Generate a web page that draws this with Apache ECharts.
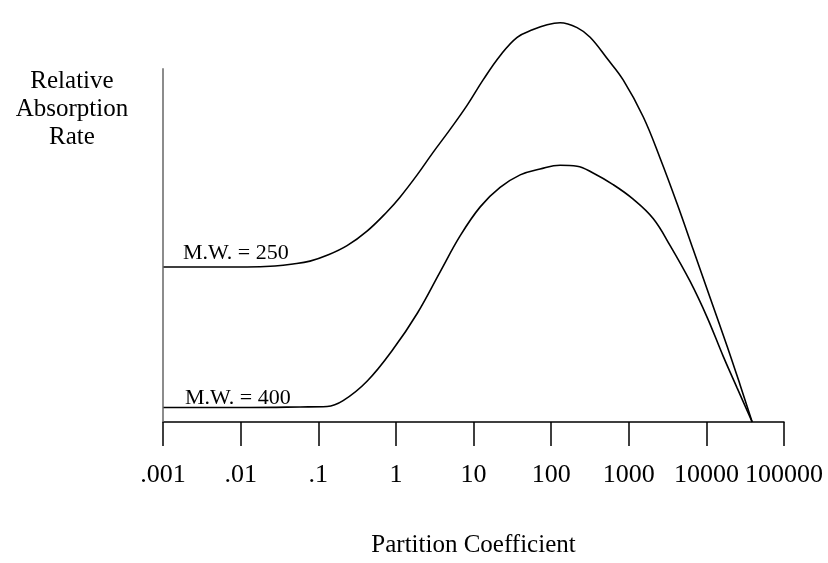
<!DOCTYPE html>
<html><head><meta charset="utf-8">
<script src="https://cdn.jsdelivr.net/npm/echarts@6/dist/echarts.min.js"></script>
<style>html,body{margin:0;padding:0;background:#fff;overflow:hidden}#c{width:828px;height:563px}</style>
</head><body><div id="c"></div>
<script>
// Partition coefficient (log scale) and relative absorption rate (arbitrary units)
const xTicks = [0.001, 0.01, 0.1, 1, 10, 100, 1000, 10000, 100000];
const tickLabels = ['.001', '.01', '.1', '1', '10', '100', '1000', '10000', '100000'];

const mw250X = [0.001, 0.00543, 0.0121, 0.0277, 0.0473, 0.0783, 0.130, 0.235, 0.425, 0.77, 1.13, 1.88, 3.0, 5.0, 8.3, 13.3, 22, 36.5, 58.6, 88.8, 130.6, 216, 318, 527, 847, 1535, 2543, 4210, 6765, 11200, 18550, 27270, 38900];
const mw250Y = [160, 160, 160, 161, 163, 166, 172, 182, 197, 217, 232, 255, 278, 302, 327, 353, 378, 397, 405, 410, 412, 407, 397, 375, 353, 315, 272, 225, 178, 128, 78, 38, 0];

const mw400X = [0.001, 0.0132, 0.0583, 0.130, 0.209, 0.425, 0.92, 1.88, 3.72, 6.72, 12.2, 22, 39.9, 72.1, 130.6, 216, 347, 629, 1140, 2062, 3415, 6180, 10230, 16440, 24950, 38900];
const mw400Y = [15, 15, 15.5, 16, 22, 42, 75, 112, 155, 192, 222, 242, 255, 261, 265, 264, 257, 245, 230, 210, 182, 145, 108, 68, 35, 0];

const seriesNames = ['M.W. = 250', 'M.W. = 400'];
const yAxisTop = 365; // where the drawn vertical axis line ends

const chart = echarts.init(document.getElementById('c'));
const serif = '"Liberation Serif", "DejaVu Serif", serif';
const labelMap = {};
xTicks.forEach((v, i) => { labelMap[v] = tickLabels[i]; });

chart.setOption({
  animation: false,
  grid: { left: 163, right: 44, top: 15, height: 420 },
  title: {
    text: 'Relative\nAbsorption\nRate',
    left: 67, top: 62, textAlign: 'center',
    textStyle: { fontFamily: serif, fontSize: 25, fontWeight: 'normal', color: '#000', lineHeight: 28, align: 'center' }
  },
  xAxis: {
    type: 'log', logBase: 10, min: 0.001, max: 100000,
    name: 'Partition Coefficient', nameLocation: 'middle', nameGap: 111,
    nameTextStyle: { fontFamily: serif, fontSize: 25, color: '#000' },
    axisLine: { lineStyle: { color: '#000', width: 1.5 } },
    axisTick: { show: true, length: 24, lineStyle: { color: '#000', width: 1.5 } },
    axisLabel: {
      fontFamily: serif, fontSize: 26, color: '#000', margin: 40,
      formatter: v => labelMap[v] !== undefined ? labelMap[v] : ''
    },
    splitLine: { show: false }, minorTick: { show: false }
  },
  yAxis: {
    type: 'value', min: 0, max: 420,
    axisLine: { show: false },
    axisTick: { show: false }, axisLabel: { show: false }, splitLine: { show: false }
  },
  series: [
    {
      name: seriesNames[0], type: 'line', smooth: 0.4, symbol: 'none',
      lineStyle: { color: '#000', width: 1.6 },
      data: mw250X.map((x, i) => [x, mw250Y[i]]),
      markLine: {
        silent: true, symbol: 'none', label: { show: false },
        lineStyle: { color: '#666', width: 1.5, type: 'solid' },
        data: [[{ coord: [xTicks[0], 0] }, { coord: [xTicks[0], yAxisTop] }]]
      }
    },
    {
      name: seriesNames[1], type: 'line', smooth: 0.4, symbol: 'none',
      lineStyle: { color: '#000', width: 1.6 },
      data: mw400X.map((x, i) => [x, mw400Y[i]])
    }
  ],
  graphic: [
    { type: 'text', left: 183, top: 242, style: { text: seriesNames[0], font: '22px ' + serif, fill: '#000' } },
    { type: 'text', left: 185, top: 387, style: { text: seriesNames[1], font: '22px ' + serif, fill: '#000' } }
  ]
});
</script>
</body></html>
